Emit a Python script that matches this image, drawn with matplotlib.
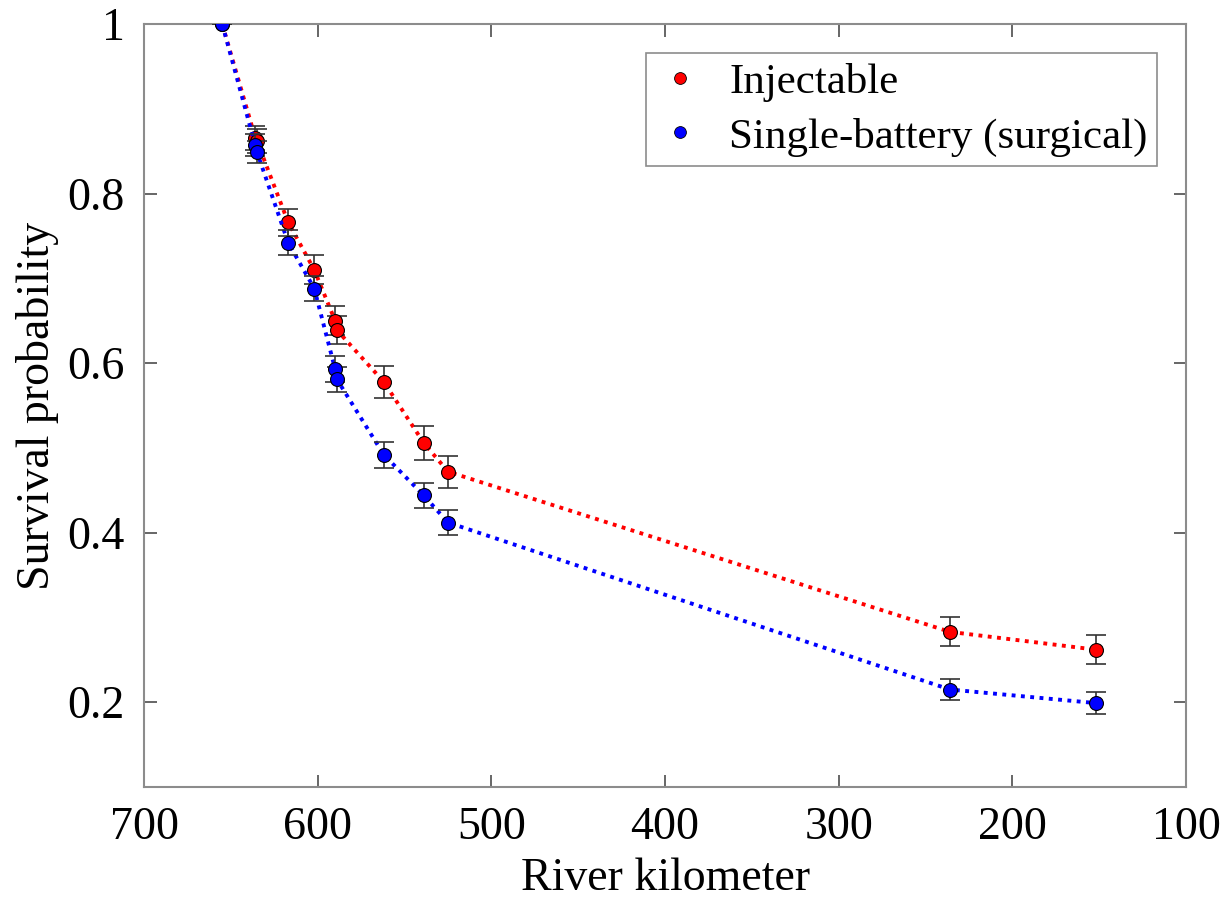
import matplotlib
matplotlib.use("Agg")
import matplotlib.pyplot as plt
from matplotlib.lines import Line2D

plt.rcParams['font.family'] = ['Liberation Serif', 'DejaVu Serif']

# river kilometer of each detection site
km = [655, 636, 635, 617, 602, 590, 589, 562, 539, 525, 236, 152]

# survival estimates and standard errors
inj_surv = [1.0, 0.866, 0.862, 0.766, 0.710, 0.650, 0.639, 0.578, 0.506, 0.472, 0.283, 0.262]
inj_err = [0.0, 0.014, 0.014, 0.016, 0.017, 0.017, 0.017, 0.019, 0.020, 0.019, 0.017, 0.017]
surg_surv = [1.0, 0.857, 0.849, 0.742, 0.688, 0.593, 0.581, 0.492, 0.444, 0.412, 0.215, 0.199]
surg_err = [0.0, 0.013, 0.013, 0.015, 0.015, 0.015, 0.015, 0.0155, 0.015, 0.015, 0.012, 0.013]

labels = ['Injectable', 'Single-battery (surgical)']
colors = ['#ff0000', '#0000ff']

fig = plt.figure(figsize=(12.26, 9.07), dpi=100)
ax = fig.add_axes([0.1175, 0.1323, 0.85, 0.8412])

for i, (surv, err) in enumerate([(inj_surv, inj_err), (surg_surv, surg_err)]):
    c = colors[i]
    z = 2 + i * 3
    ax.plot(km, surv, linestyle=(0, (1, 1.4)), color=c, lw=2.8, zorder=z)
    ax.errorbar(km, surv, yerr=err, fmt='none', ecolor='0.2', elinewidth=1.2,
                capsize=7, capthick=1.2, zorder=z + 1)
    ax.plot(km, surv, 'o', color=c, markeredgecolor='black', markeredgewidth=0.8,
            markersize=10, linestyle='none', zorder=z + 2)

ax.set_xlim(700, 100)
ax.set_ylim(0.1, 1.0)
ax.set_xticks([700, 600, 500, 400, 300, 200, 100])
ax.set_yticks([0.2, 0.4, 0.6, 0.8, 1.0])
ax.set_yticklabels(['0.2', '0.4', '0.6', '0.8', '1'])

ax.tick_params(direction='in', length=9, width=1.2, color='0.3',
               labelsize=33, top=True, right=True, pad=14)
for s in ax.spines.values():
    s.set_color('0.55')
    s.set_linewidth(1.5)

ax.set_xlabel('River kilometer', fontsize=33, labelpad=6)
ax.set_ylabel('Survival probability', fontsize=33, labelpad=6)

handles = [Line2D([], [], marker='o', color=c, markeredgecolor='black',
                  markeredgewidth=0.6, markersize=8.5, linestyle='none') for c in colors]
leg = ax.legend(handles, labels, loc='upper right', fontsize=31, frameon=True,
                fancybox=False, framealpha=1, edgecolor='0.55', borderaxespad=0.68,
                handletextpad=0.57, labelspacing=0.36, borderpad=0.22, handlelength=1.15)
leg.get_frame().set_linewidth(1.2)

fig.savefig('out.png', dpi=100)
